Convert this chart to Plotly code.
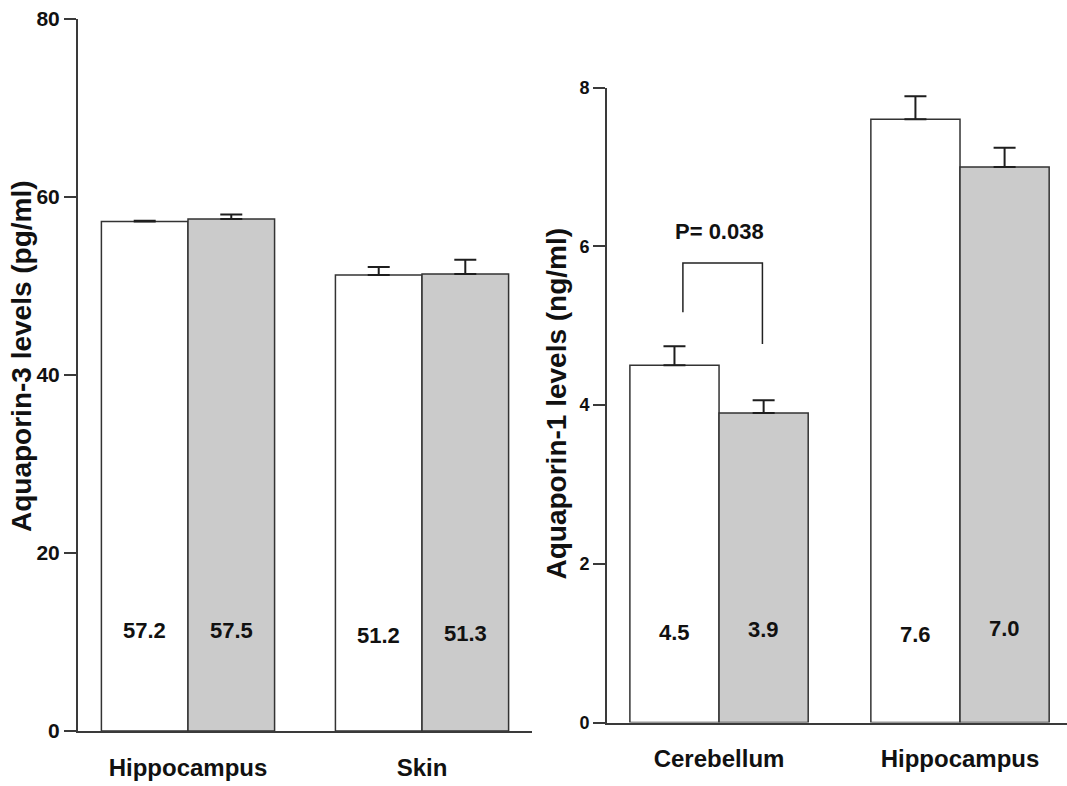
import plotly.graph_objects as go

# ---------------- data ----------------
left_categories = ["Hippocampus", "Skin"]
left_white = [57.2, 51.2]
left_gray = [57.5, 51.3]
left_white_err = [0.1, 0.9]
left_gray_err = [0.5, 1.6]
left_ticks = [0, 20, 40, 60, 80]
left_white_label_y = [11.3, 10.7]
left_gray_label_y = [11.3, 10.9]

right_categories = ["Cerebellum", "Hippocampus"]
right_white = [4.5, 7.6]
right_gray = [3.9, 7.0]
right_white_err = [0.24, 0.29]
right_gray_err = [0.16, 0.24]
right_ticks = [0, 2, 4, 6, 8]
right_white_label_y = [1.13, 1.11]
right_gray_label_y = [1.17, 1.19]

left_title = "Aquaporin-3 levels (pg/ml)"
right_title = "Aquaporin-1 levels (ng/ml)"
p_text = "P= 0.038"
bracket_x = [-0.15, 0.18]          # legs (data units, right panel)
bracket_y = [5.17, 5.79, 4.77]     # left-leg bottom, top, right-leg bottom
p_text_y = 6.19

# ---------------- style ----------------
W = 0.37
GRAY = "#cbcbcb"
EDGE = "#333333"
AX = "#3a3a3a"
SANS = "Liberation Sans, Arial, sans-serif"
NARROW = "Liberation Sans Narrow, Arial Narrow, Liberation Sans, sans-serif"

fig = go.Figure()


def add_pair(xa, ya, cats, white, gray, werr, gerr):
    xs = list(range(len(cats)))
    fig.add_trace(go.Bar(
        x=xs, y=white, width=[W] * len(xs), offset=[-W] * len(xs),
        marker=dict(color="white", line=dict(color=EDGE, width=1.5)),
        error_y=dict(type="data", array=werr, arrayminus=[0] * len(xs), symmetric=False,
                     color="#1e1e1e", thickness=2, width=11),
        xaxis=xa, yaxis=ya, showlegend=False, hoverinfo="skip"))
    fig.add_trace(go.Bar(
        x=xs, y=gray, width=[W] * len(xs), offset=[0] * len(xs),
        marker=dict(color=GRAY, line=dict(color=EDGE, width=1.5)),
        error_y=dict(type="data", array=gerr, arrayminus=[0] * len(xs), symmetric=False,
                     color="#1e1e1e", thickness=2, width=11),
        xaxis=xa, yaxis=ya, showlegend=False, hoverinfo="skip"))


add_pair("x", "y", left_categories, left_white, left_gray, left_white_err, left_gray_err)
add_pair("x2", "y2", right_categories, right_white, right_gray, right_white_err, right_gray_err)

annotations = []


def add_labels(xref, yref, white, gray, wy, gy):
    for i in range(len(white)):
        annotations.append(dict(x=i - W / 2, y=wy[i], xref=xref, yref=yref, text=f"{white[i]:.1f}",
                                showarrow=False, xanchor="center", yanchor="middle",
                                font=dict(family=SANS, size=22, color="#111", weight="bold")))
        annotations.append(dict(x=i + W / 2, y=gy[i], xref=xref, yref=yref, text=f"{gray[i]:.1f}",
                                showarrow=False, xanchor="center", yanchor="middle",
                                font=dict(family=SANS, size=22, color="#111", weight="bold")))


add_labels("x", "y", left_white, left_gray, left_white_label_y, left_gray_label_y)
add_labels("x2", "y2", right_white, right_gray, right_white_label_y, right_gray_label_y)

annotations.append(dict(x=0, y=p_text_y, xref="x2", yref="y2", text=p_text, showarrow=False,
                        xanchor="center", yanchor="middle",
                        font=dict(family=SANS, size=22, color="#111", weight="bold")))
annotations.append(dict(x=21 / 1067, y=(786 - 356) / 786, xref="paper", yref="paper", text=left_title,
                        textangle=-90, showarrow=False, xanchor="center", yanchor="middle",
                        font=dict(family=SANS, size=28, color="#111", weight="bold")))
annotations.append(dict(x=556 / 1067, y=(786 - 403.5) / 786, xref="paper", yref="paper", text=right_title,
                        textangle=-90, showarrow=False, xanchor="center", yanchor="middle",
                        font=dict(family=SANS, size=28, color="#111", weight="bold")))

shapes = [dict(type="path", xref="x2", yref="y2",
               path=(f"M {bracket_x[0]},{bracket_y[0]} L {bracket_x[0]},{bracket_y[1]} "
                     f"L {bracket_x[1]},{bracket_y[1]} L {bracket_x[1]},{bracket_y[2]}"),
               line=dict(color="#222", width=1.5))]

xcommon = dict(showline=True, linecolor=AX, linewidth=2, ticks="", showgrid=False, zeroline=False,
               automargin=False,
               tickfont=dict(family=SANS, size=24, color="#111", weight="bold"), ticklabelstandoff=14)
ycommon = dict(showline=True, linecolor=AX, linewidth=2, ticks="outside", ticklen=12, tickwidth=2,
               tickcolor=AX, showgrid=False, zeroline=False, automargin=False)

fig.update_layout(
    width=1067, height=786,
    margin=dict(l=0, r=0, t=0, b=0, autoexpand=False),
    paper_bgcolor="white", plot_bgcolor="white",
    barmode="overlay",
    xaxis=dict(domain=[78 / 1067, 532 / 1067], range=[-0.47, 1.47], tickvals=[0, 1],
               ticktext=left_categories, anchor="y", **xcommon),
    yaxis=dict(domain=[(786 - 731) / 786, (786 - 18.5) / 786], range=[0, 80], tickvals=left_ticks,
               anchor="x", tickfont=dict(family=NARROW, size=21, color="#111", weight="bold"), **ycommon),
    xaxis2=dict(domain=[607 / 1067, 1.0], range=[-0.465, 1.444], tickvals=[0, 1],
                ticktext=right_categories, anchor="y2", **xcommon),
    yaxis2=dict(domain=[(786 - 722.5) / 786, (786 - 87.5) / 786], range=[0, 8], tickvals=right_ticks,
                anchor="x2", tickfont=dict(family=NARROW, size=18, color="#111", weight="bold"), **ycommon),
    annotations=annotations,
    shapes=shapes,
)

fig.write_html("out.html", config={"displayModeBar": False},
               post_script="document.body.style.margin='0';document.body.style.overflow='hidden';")
